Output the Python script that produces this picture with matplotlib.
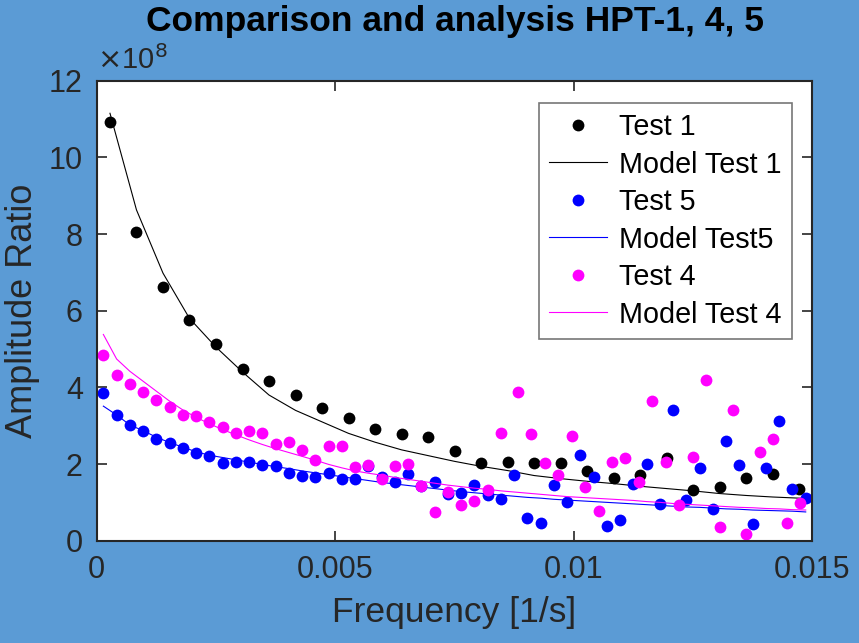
import matplotlib
matplotlib.use("Agg")
import matplotlib.pyplot as plt

# frequencies in 1/s, amplitude ratios in units of 1e8
freq_test1 = [0.000278, 0.000833, 0.001389, 0.001944, 0.002500, 0.003056, 0.003611,
              0.004167, 0.004722, 0.005278, 0.005833, 0.006389, 0.006944, 0.007500,
              0.008056, 0.008611, 0.009167, 0.009722, 0.010278, 0.010833, 0.011389,
              0.011944, 0.012500, 0.013056, 0.013611, 0.014167, 0.014722]
amp_test1 = [10.92, 8.05, 6.63, 5.76, 5.13, 4.47, 4.17, 3.81, 3.46, 3.19, 2.91, 2.79,
             2.70, 2.33, 2.03, 2.06, 2.02, 2.03, 1.83, 1.64, 1.71, 2.17, 1.32, 1.39,
             1.63, 1.75, 1.35]

freq_model1 = freq_test1 + [0.015278]
amp_model1 = [11.15, 8.63, 6.98, 5.80, 5.05, 4.40, 3.80, 3.40, 3.10, 2.80, 2.57, 2.37,
              2.22, 2.07, 1.94, 1.83, 1.70, 1.62, 1.55, 1.49, 1.42, 1.36, 1.30, 1.23,
              1.18, 1.14, 1.11, 1.07]

freq_test5 = [0.000139, 0.000417, 0.000694, 0.000972, 0.001250, 0.001528, 0.001806,
              0.002083, 0.002361, 0.002639, 0.002917, 0.003194, 0.003472, 0.003750,
              0.004028, 0.004306, 0.004583, 0.004861, 0.005139, 0.005417, 0.005694,
              0.005972, 0.006250, 0.006528, 0.006806, 0.007083, 0.007361, 0.007639,
              0.007917, 0.008194, 0.008472, 0.008750, 0.009028, 0.009306, 0.009583,
              0.009861, 0.010139, 0.010417, 0.010694, 0.010972, 0.011250, 0.011528,
              0.011806, 0.012083, 0.012361, 0.012639, 0.012917, 0.013194, 0.013472,
              0.013750, 0.014028, 0.014306, 0.014583, 0.014861]
amp_test5 = [3.84, 3.29, 3.03, 2.85, 2.66, 2.55, 2.41, 2.30, 2.21, 2.02, 2.05, 2.05,
             1.97, 1.94, 1.76, 1.70, 1.67, 1.77, 1.61, 1.60, 1.96, 1.65, 1.53, 1.74,
             1.43, 1.53, 1.22, 1.25, 1.45, 1.18, 1.09, 1.72, 0.60, 0.47, 1.45, 1.00,
             2.23, 1.67, 0.39, 0.55, 1.48, 2.01, 0.96, 3.40, 1.05, 1.89, 0.82, 2.59,
             1.98, 0.44, 1.89, 3.11, 1.35, 1.11]
amp_model5 = [3.51, 3.28, 3.02, 2.87, 2.70, 2.56, 2.44, 2.32, 2.23, 2.17, 2.11, 2.05,
              1.99, 1.93, 1.88, 1.82, 1.77, 1.72, 1.67, 1.62, 1.57, 1.52, 1.48, 1.44,
              1.40, 1.36, 1.32, 1.28, 1.25, 1.22, 1.19, 1.16, 1.13, 1.11, 1.08, 1.06,
              1.04, 1.02, 1.00, 0.98, 0.96, 0.94, 0.92, 0.90, 0.88, 0.87, 0.85, 0.83,
              0.82, 0.80, 0.79, 0.78, 0.77, 0.75]

freq_test4 = freq_test5[:31] + [
    0.008831, 0.009113, 0.009394, 0.009676, 0.009957, 0.010239, 0.010520, 0.010802,
    0.011083, 0.011365, 0.011646, 0.011928, 0.012209, 0.012491, 0.012772, 0.013054,
    0.013335, 0.013617, 0.013898, 0.014180, 0.014461, 0.014743]
amp_test4 = [4.84, 4.31, 4.10, 3.87, 3.66, 3.50, 3.29, 3.25, 3.09, 2.97, 2.82, 2.85,
             2.81, 2.53, 2.57, 2.36, 2.10, 2.47, 2.47, 1.91, 1.98, 1.61, 1.95, 1.99,
             1.43, 0.76, 1.26, 0.92, 1.04, 1.33, 2.80,
             3.87, 2.78, 2.02, 1.72, 2.73, 1.40, 0.77, 2.05, 2.17, 1.54, 3.65, 2.05,
             0.93, 2.18, 4.18, 0.36, 3.40, 0.17, 2.31, 2.65, 0.45, 0.98]
amp_model4 = [5.38, 4.74, 4.42, 4.16, 3.90, 3.64, 3.41, 3.22, 3.05, 2.90, 2.76, 2.63,
              2.51, 2.40, 2.30, 2.20, 2.10, 1.99, 1.90, 1.82, 1.76, 1.71, 1.65, 1.60,
              1.55, 1.50, 1.45, 1.41, 1.37, 1.34, 1.30, 1.27, 1.24, 1.21, 1.18, 1.15,
              1.13, 1.11, 1.09, 1.07, 1.05, 1.02, 1.00, 0.97, 0.95, 0.93, 0.91, 0.89,
              0.87, 0.86, 0.84, 0.83, 0.81, 0.80]

x_ticks = [0, 0.005, 0.01, 0.015]
x_tick_labels = ["0", "0.005", "0.01", "0.015"]
y_ticks = [0, 2, 4, 6, 8, 10, 12]

plt.rcParams["font.family"] = ["Liberation Sans", "DejaVu Sans"]

BG = "#5b9bd5"
INK = "#262626"
MAGENTA = "#ff00ff"

fig = plt.figure(figsize=(8.59, 6.43), dpi=100, facecolor=BG)
ax = fig.add_axes([0.1126, 0.1591, 0.8331, 0.7154])
ax.set_facecolor("white")

ms = 8.5
ax.plot(freq_test1, amp_test1, "o", color="black", ms=ms, mec="none", label="Test 1")
ax.plot(freq_model1, amp_model1, "-", color="black", lw=0.8, label="Model Test 1")
ax.plot(freq_test5, amp_test5, "o", color="blue", ms=ms, mec="none", label="Test 5")
ax.plot(freq_test5, amp_model5, "-", color="blue", lw=0.8, label="Model Test5")
ax.plot(freq_test4, amp_test4, "o", color=MAGENTA, ms=ms, mec="none", label="Test 4")
ax.plot(freq_test5, amp_model4, "-", color=MAGENTA, lw=0.8, label="Model Test 4")

ax.set_xlim(0, 0.015)
ax.set_ylim(0, 12)
ax.set_xticks(x_ticks)
ax.set_xticklabels(x_tick_labels)
ax.set_yticks(y_ticks)
ax.tick_params(direction="in", length=7, width=1.2, colors=INK, labelsize=22,
               top=True, right=True, pad=10)
for s in ax.spines.values():
    s.set_color(INK)
    s.set_linewidth(1.5)

ax.text(0.0, 1.012, r"$\times$10$^{8}$", transform=ax.transAxes, fontsize=21,
        color=INK, ha="left", va="bottom")

ax.set_xlabel("Frequency [1/s]", fontsize=25.5, color=INK, labelpad=8)
ax.set_ylabel("Amplitude Ratio", fontsize=26, color=INK, labelpad=6)
ax.set_title("Comparison and analysis HPT-1, 4, 5", fontsize=25.5, fontweight="bold",
             color="black", pad=36)

leg = ax.legend(loc="upper right", bbox_to_anchor=(0.9716, 0.9515), borderaxespad=0,
                fontsize=20.7, frameon=True, fancybox=False, edgecolor="#555555",
                handlelength=2.0, handletextpad=0.45, labelspacing=0.33,
                borderpad=0.35, numpoints=1)
leg.get_frame().set_linewidth(1.2)

fig.savefig("out.png", dpi=100, facecolor=BG)
